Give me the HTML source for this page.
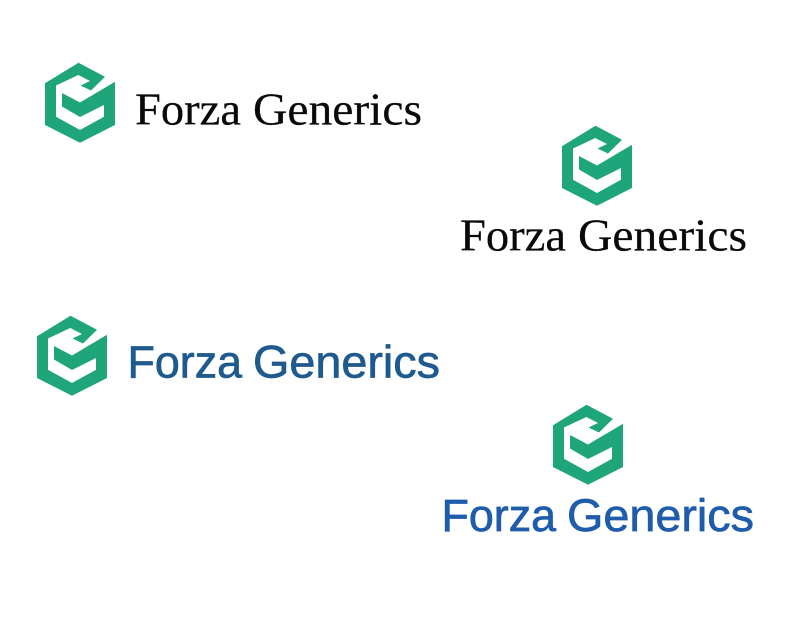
<!DOCTYPE html>
<html><head><meta charset="utf-8"><style>html,body{margin:0;padding:0;background:#fff}svg{display:block}
.s{font-family:"Liberation Serif",serif;font-size:46px;fill:#0a0a0a;stroke:#0a0a0a;stroke-width:.25px}
.a{font-family:"Liberation Sans",sans-serif;font-size:45px;stroke-width:.7px}</style></head>
<body>
<svg width="800" height="640" viewBox="0 0 800 640" xmlns="http://www.w3.org/2000/svg">
<defs><g id="i" fill="#1ea67a">
<path d="M78.5 62.7 L45 83.3 V125 L80 142.7 L115 125 V81.7 L80 102.5 L62 93 V106.5 L80 117 L104 105 V116.7 L80 130 L56 116.7 V85.5 L78.3 75 L90 81 L80.5 85.5 L91 90.5 L105 76.7 Z"/>
</g></defs>
<use href="#i"/>
<use href="#i" x="517" y="63"/>
<use href="#i" x="-8" y="253"/>
<use href="#i" x="508" y="342"/>
<text class="s" x="135" y="124.5" textLength="106" lengthAdjust="spacingAndGlyphs">Forza</text>
<text class="s" x="253" y="124.5" textLength="169" lengthAdjust="spacingAndGlyphs">Generics</text>
<text class="s" x="460" y="250.5" textLength="106" lengthAdjust="spacingAndGlyphs">Forza</text>
<text class="s" x="578" y="250.5" textLength="169" lengthAdjust="spacingAndGlyphs">Generics</text>
<text class="a" x="127.5" y="377.3" fill="#1e5a8e" stroke="#1e5a8e" textLength="114.5" lengthAdjust="spacingAndGlyphs">Forza</text>
<text class="a" x="253" y="377.3" fill="#1e5a8e" stroke="#1e5a8e" textLength="187" lengthAdjust="spacingAndGlyphs">Generics</text>
<text class="a" x="441.5" y="531" fill="#1f5cab" stroke="#1f5cab" textLength="114.5" lengthAdjust="spacingAndGlyphs">Forza</text>
<text class="a" x="567" y="531" fill="#1f5cab" stroke="#1f5cab" textLength="187" lengthAdjust="spacingAndGlyphs">Generics</text>
</svg>
</body></html>
